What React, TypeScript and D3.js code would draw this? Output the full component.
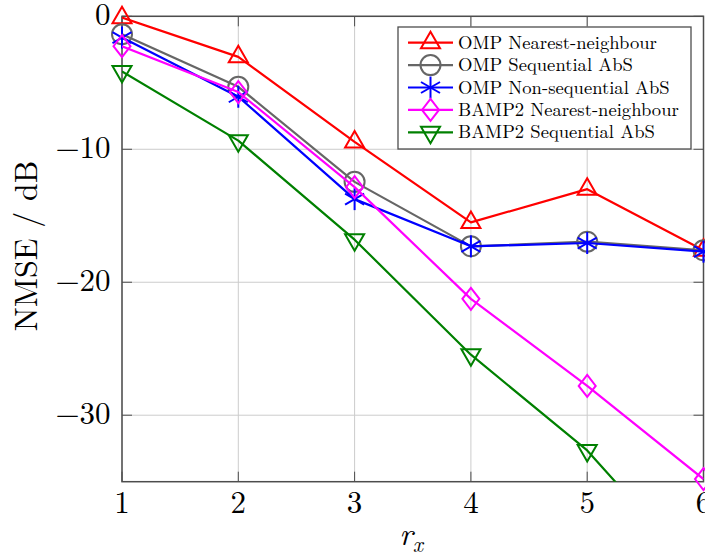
import React from "react";
import * as d3 from "d3";

const xValues = [1, 2, 3, 4, 5, 6];
const seriesNames = [
  "OMP Nearest-neighbour",
  "OMP Sequential AbS",
  "OMP Non-sequential AbS",
  "BAMP2 Nearest-neighbour",
  "BAMP2 Sequential AbS",
];
const ompNearest = [-0.1, -3.05, -9.45, -15.5, -13.0, -17.6];
const ompSequential = [-1.35, -5.3, -12.45, -17.3, -16.95, -17.6];
const ompNonSequential = [-1.6, -6.05, -13.75, -17.3, -17.05, -17.7];
const bampNearest = [-2.25, -5.7, -12.85, -21.25, -27.8, -34.8];
const bampSequential = [-4.15, -9.35, -16.8, -25.45, -32.65, -42.4];
const xTicks = [1, 2, 3, 4, 5, 6];
const yTicks = [0, -10, -20, -30];

const colors = ["#ff0000", "#666666", "#0000ff", "#ff00ff", "#008000"];
const markers = ["triangle", "circle", "asterisk", "diamond", "triangleDown"];
const seriesValues = [ompNearest, ompSequential, ompNonSequential, bampNearest, bampSequential];

const L = 122, R = 703.5, T = 16.3, B = 481.7;
const x = d3.scaleLinear().domain([1, 6]).range([L, R]);
const y = d3.scaleLinear().domain([-35, 0]).range([B, T]);

function Marker({ type, cx, cy, color }: { type: string; cx: number; cy: number; color: string }) {
  const sw = 2;
  if (type === "circle") return <circle cx={cx} cy={cy} r={10} fill="none" stroke={color} strokeWidth={sw} />;
  if (type === "triangle" || type === "triangleDown") {
    const r = 11;
    const s = type === "triangle" ? -1 : 1;
    const pts = [
      [cx, cy + s * r],
      [cx - r * Math.cos(Math.PI / 6), cy - s * r / 2],
      [cx + r * Math.cos(Math.PI / 6), cy - s * r / 2],
    ];
    return <polygon points={pts.map((p) => p.join(",")).join(" ")} fill="none" stroke={color} strokeWidth={sw} strokeLinejoin="miter" />;
  }
  if (type === "diamond") {
    const hw = 8.5, hh = 11;
    const pts = [[cx, cy - hh], [cx + hw, cy], [cx, cy + hh], [cx - hw, cy]];
    return <polygon points={pts.map((p) => p.join(",")).join(" ")} fill="none" stroke={color} strokeWidth={sw} />;
  }
  const r = 11;
  const angles = [90, 30, 150];
  return (
    <g stroke={color} strokeWidth={sw}>
      {angles.map((a) => {
        const rad = (a * Math.PI) / 180;
        const dx = r * Math.cos(rad), dy = r * Math.sin(rad);
        return <line key={a} x1={cx - dx} y1={cy - dy} x2={cx + dx} y2={cy + dy} />;
      })}
    </g>
  );
}

const font = '"Latin Modern Roman", "Liberation Serif", serif';
const ts = { fontFamily: font };

export default function App() {
  const line = d3
    .line<number>()
    .x((_, i) => x(xValues[i]))
    .y((d) => y(d));
  const axisColor = "#4d4d4d";
  const legX = 398, legY = 27, legW = 293, legH = 122;
  const rowY = (i: number) => 42.7 + i * 22.4;
  return (
    <svg width={705} height={556} style={{ position: "absolute", left: 0, top: 0, background: "#fff" }}>
      <defs>
        <clipPath id="plotClip">
          <rect x={L} y={T} width={R - L} height={B - T} />
        </clipPath>
      </defs>
      <rect x={0} y={0} width={705} height={556} fill="#fff" />
      {xTicks.map((t) => (
        <line key={"gx" + t} x1={x(t)} x2={x(t)} y1={T} y2={B} stroke="#cccccc" strokeWidth={1} />
      ))}
      {yTicks.map((t) => (
        <line key={"gy" + t} x1={L} x2={R} y1={y(t)} y2={y(t)} stroke="#cccccc" strokeWidth={1} />
      ))}
      {xTicks.map((t) => (
        <g key={"tx" + t} stroke={axisColor} strokeWidth={1}>
          <line x1={x(t)} x2={x(t)} y1={B} y2={B - 10} />
          <line x1={x(t)} x2={x(t)} y1={T} y2={T + 10} />
        </g>
      ))}
      {yTicks.map((t) => (
        <g key={"ty" + t} stroke={axisColor} strokeWidth={1}>
          <line x1={L} x2={L + 10} y1={y(t)} y2={y(t)} />
          <line x1={R} x2={R - 10} y1={y(t)} y2={y(t)} />
        </g>
      ))}
      <rect x={L} y={T} width={R - L} height={B - T} fill="none" stroke={axisColor} strokeWidth={1.5} />
      {seriesValues.map((vals, si) => (
        <g key={"s" + si}>
          <path d={line(vals) || ""} fill="none" stroke={colors[si]} strokeWidth={2.2} clipPath="url(#plotClip)" strokeLinejoin="round" />
          {vals.map((v, i) =>
            v >= -35 ? <Marker key={i} type={markers[si]} cx={x(xValues[i])} cy={y(v)} color={colors[si]} /> : null
          )}
        </g>
      ))}
      {xTicks.map((t) => (
        <text key={"lx" + t} x={x(t)} y={513} fontSize={31} textAnchor="middle" fill="#000" style={ts}>
          {t}
        </text>
      ))}
      {yTicks.map((t) => (
        <text key={"ly" + t} x={110.5} y={y(t) + 9} fontSize={31} textAnchor="end" fill="#000" style={ts}>
          {t === 0 ? "0" : "\u2212" + Math.abs(t)}
        </text>
      ))}
      <text x={411} y={545} fontSize={32} textAnchor="middle" fill="#000" style={ts}>
        <tspan fontStyle="italic">r</tspan>
        <tspan fontStyle="italic" fontSize={22} dy={6.7}>x</tspan>
      </text>
      <text transform={`translate(37,246) rotate(-90)`} fontSize={32} textAnchor="middle" fill="#000" style={ts}>
        NMSE / dB
      </text>
      <rect x={legX} y={legY} width={legW} height={legH} fill="#fff" stroke={axisColor} strokeWidth={1.3} />
      {seriesNames.map((name, i) => (
        <g key={"lg" + i}>
          <line x1={408} x2={453} y1={rowY(i)} y2={rowY(i)} stroke={colors[i]} strokeWidth={2.2} />
          <Marker type={markers[i]} cx={430.5} cy={rowY(i)} color={colors[i]} />
          <text x={458} y={rowY(i) + 6} fontSize={18.6} fill="#000" style={ts}>
            {name}
          </text>
        </g>
      ))}
    </svg>
  );
}
